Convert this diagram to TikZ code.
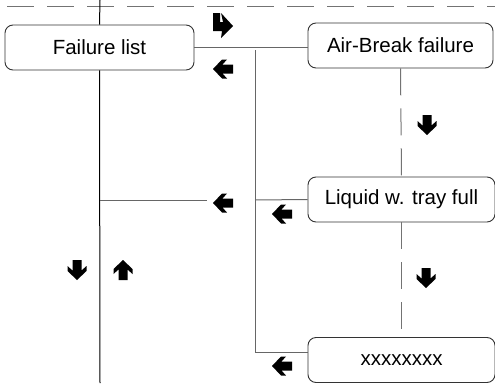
\documentclass[tikz,border=0pt]{standalone}
\usepackage{fontspec}
\setmainfont{Liberation Sans}
\usepackage{tikz}
\tikzstyle{state} = [draw=black!80, fill=white, rounded corners=8pt, minimum height=45pt, inner sep=0pt, line width=0.9pt, font=\fontsize{20.5}{24}\selectfont]
\tikzstyle{link} = [draw=black!60, line width=1pt]
\tikzstyle{track} = [draw=black!55, line width=1pt, dash pattern=on 27pt off 13pt]

% fat arrow glyph, pointing left before rotation
\newcommand{\blockarrow}[2]{%
	\fill[black, shift={#1}, rotate=#2] (-10,0) -- (-1,-9.5) -- (4,-9.5) -- (-0.5,-4.5) -- (10,-4.5)
		-- (10,4.5) -- (-0.5,4.5) -- (4,9.5) -- (-1,9.5) -- cycle;
}

\begin{document}
\begin{tikzpicture}[x=1pt, y=-1pt]
		\useasboundingbox (0,0) rectangle (495,383);

		\draw[track] (7,6) -- (495,6);

		\node[state, minimum width=189pt] (fl) at (99.5,47.5) {Failure list};
		\node[state, minimum width=185pt] (ab) at (400.5,45.5) {Air-Break failure};
		\node[state, minimum width=187pt] (lq) at (401.5,199.5) {Liquid w. tray full};
		\node[state, minimum width=187pt] (xx) at (401.5,360) {xxxxxxxx};

		\coordinate (top) at (100,0);
		\coordinate (bot) at (100,383);
		\coordinate (j1) at (255,50);
		\coordinate (j2) at (255,200);
		\coordinate (k2) at (100,200);
		\coordinate (k3) at (207,200);
		\coordinate (xin) at (308,352);

		% main trunk
		\draw[line width=1pt] (top) -- (fl.north);
		\draw[line width=1pt] (fl.south) -- (bot);

		\draw[link] (fl.east) -- (fl.east -| ab.west);
		\draw[link] (j1) |- (xin);
		\draw[link] (j2) -- (lq.west);
		\draw[link] (k2) -- (k3);

		\draw[track] (ab.south) -- (lq.north);
		\draw[track] (lq.south) -- (xx.north);

		% turn arrow at the top
		\fill[black] (213,13) -- (220,13) -- (220,22) -- (223,22) -- (221,13) -- (233,26)
			-- (221,38) -- (222,31) -- (213,31) -- cycle;

		\blockarrow{(223,69)}{0}
		\blockarrow{(223,203)}{0}
		\blockarrow{(282,214)}{0}
		\blockarrow{(282,366)}{0}
		\blockarrow{(427,125)}{90}
		\blockarrow{(426,278)}{90}
		\blockarrow{(77,270)}{90}
		\blockarrow{(123,270)}{-90}

	\end{tikzpicture}
\end{document}
